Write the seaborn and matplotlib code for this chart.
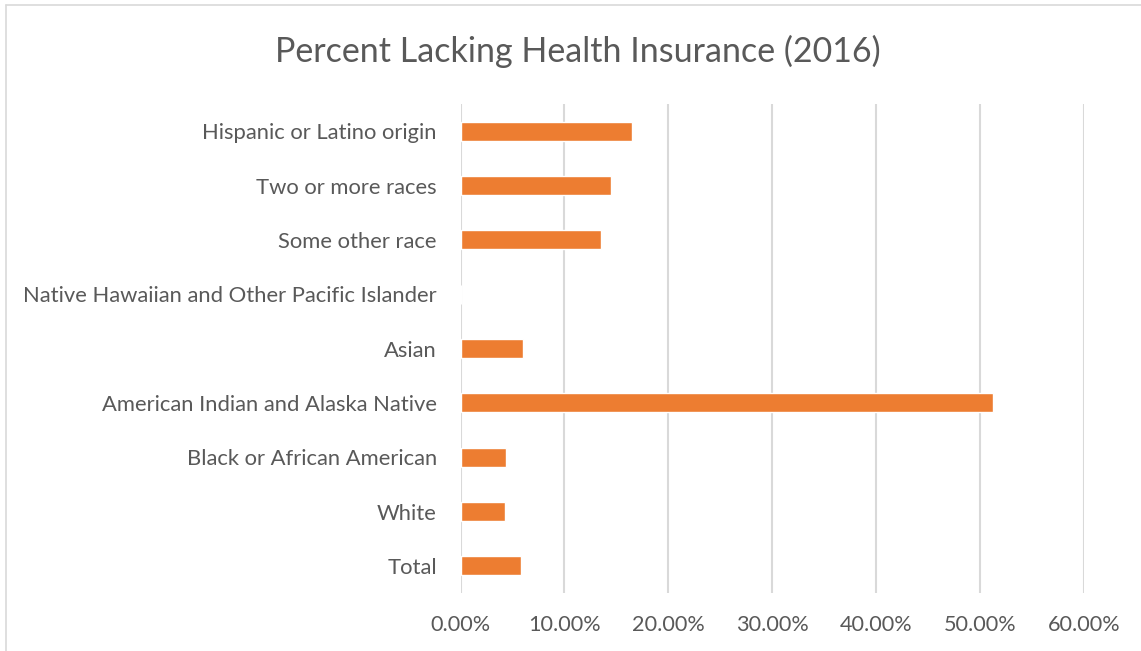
import matplotlib
matplotlib.use("Agg")
import matplotlib.pyplot as plt
import seaborn as sns
import pandas as pd
from matplotlib.ticker import FuncFormatter, MultipleLocator
from matplotlib.lines import Line2D

categories = [
    "Hispanic or Latino origin",
    "Two or more races",
    "Some other race",
    "Native Hawaiian and Other Pacific Islander",
    "Asian",
    "American Indian and Alaska Native",
    "Black or African American",
    "White",
    "Total",
]
values = [0.165, 0.145, 0.135, 0.0, 0.060, 0.512, 0.044, 0.043, 0.058]
title = "Percent Lacking Health Insurance (2016)"

sns.set_theme(style="white")
plt.rcParams["font.family"] = ["Lato", "DejaVu Sans"]

df = pd.DataFrame({"category": categories, "value": values})

fig = plt.figure(figsize=(11.41, 6.51), dpi=100)
ax = fig.add_axes([460.5 / 1141, 58 / 651, (1084 - 460.5) / 1141, (593 - 104) / 651])

sns.barplot(data=df, y="category", x="value", orient="h", color="#ED7D31",
            width=0.35, saturation=1, ax=ax, order=categories)

ax.set_xlim(0, 0.6)
ax.xaxis.set_major_locator(MultipleLocator(0.1))
ax.xaxis.set_major_formatter(FuncFormatter(lambda v, p: f"{v*100:.2f}%"))
ax.grid(axis="x", color="#D9D9D9", linewidth=1.5)
ax.set_axisbelow(True)
for s in ax.spines.values():
    s.set_visible(False)
ax.set_xlabel("")
ax.set_ylabel("")
ax.tick_params(axis="x", length=0, pad=16, labelsize=15.6, labelcolor="#595959")
ax.tick_params(axis="y", length=0, pad=17, labelsize=15.8, labelcolor="#595959")

fig.text(577.5 / 1141, 1 - 51 / 651, title, ha="center", va="center",
         fontsize=24.5, color="#595959")

fig.add_artist(Line2D([6 / 1141, 1], [1 - 5 / 651, 1 - 5 / 651],
                      transform=fig.transFigure, color="#D9D9D9", linewidth=1.2))
fig.add_artist(Line2D([6 / 1141, 6 / 1141], [0, 1 - 5 / 651],
                      transform=fig.transFigure, color="#D9D9D9", linewidth=1.2))

fig.savefig("out.png", dpi=100)
